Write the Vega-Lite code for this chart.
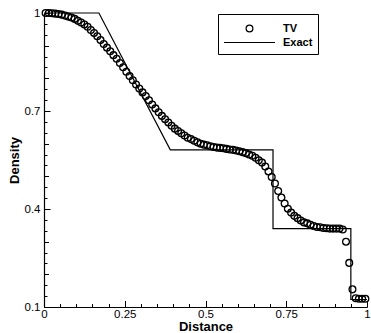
{
  "$schema": "https://vega.github.io/schema/vega-lite/v6.json",
  "width": 323,
  "height": 294,
  "autosize": {"type": "none"},
  "padding": {"left": 44, "top": 13, "right": 4, "bottom": 26},
  "background": "white",
  "config": {
    "view": {"stroke": null},
    "font": "Liberation Sans",
    "axis": {"labelFont": "Liberation Sans", "titleFont": "Liberation Sans", "labelColor": "black", "titleColor": "black", "domainColor": "black", "tickColor": "black", "grid": false},
    "legend": {"orient": "none", "legendX": 174, "legendY": 1, "titleFontSize": 1, "titlePadding": 2,
      "strokeColor": "black", "fillColor": "white", "padding": 5,
      "labelFont": "Liberation Sans", "labelFontSize": 11, "labelFontWeight": "bold", "labelColor": "black",
      "symbolOffset": 0, "labelOffset": 7, "rowPadding": 1, "clipHeight": 13, "symbolStrokeWidth": 1.2, "symbolStrokeColor": "black"}
  },
  "datasets": {
    "tv": [
      {"distance":0.005,"density":1.000,"series":"TV"},
      {"distance":0.015,"density":1.000,"series":"TV"},
      {"distance":0.025,"density":0.999,"series":"TV"},
      {"distance":0.035,"density":0.998,"series":"TV"},
      {"distance":0.045,"density":0.997,"series":"TV"},
      {"distance":0.055,"density":0.995,"series":"TV"},
      {"distance":0.065,"density":0.992,"series":"TV"},
      {"distance":0.075,"density":0.989,"series":"TV"},
      {"distance":0.085,"density":0.986,"series":"TV"},
      {"distance":0.095,"density":0.982,"series":"TV"},
      {"distance":0.105,"density":0.976,"series":"TV"},
      {"distance":0.115,"density":0.971,"series":"TV"},
      {"distance":0.125,"density":0.965,"series":"TV"},
      {"distance":0.135,"density":0.958,"series":"TV"},
      {"distance":0.145,"density":0.948,"series":"TV"},
      {"distance":0.155,"density":0.939,"series":"TV"},
      {"distance":0.165,"density":0.929,"series":"TV"},
      {"distance":0.175,"density":0.917,"series":"TV"},
      {"distance":0.185,"density":0.905,"series":"TV"},
      {"distance":0.195,"density":0.894,"series":"TV"},
      {"distance":0.205,"density":0.883,"series":"TV"},
      {"distance":0.215,"density":0.871,"series":"TV"},
      {"distance":0.225,"density":0.860,"series":"TV"},
      {"distance":0.235,"density":0.847,"series":"TV"},
      {"distance":0.245,"density":0.834,"series":"TV"},
      {"distance":0.255,"density":0.820,"series":"TV"},
      {"distance":0.265,"density":0.807,"series":"TV"},
      {"distance":0.275,"density":0.794,"series":"TV"},
      {"distance":0.285,"density":0.781,"series":"TV"},
      {"distance":0.295,"density":0.769,"series":"TV"},
      {"distance":0.305,"density":0.757,"series":"TV"},
      {"distance":0.315,"density":0.746,"series":"TV"},
      {"distance":0.325,"density":0.733,"series":"TV"},
      {"distance":0.335,"density":0.720,"series":"TV"},
      {"distance":0.345,"density":0.708,"series":"TV"},
      {"distance":0.355,"density":0.696,"series":"TV"},
      {"distance":0.365,"density":0.685,"series":"TV"},
      {"distance":0.375,"density":0.675,"series":"TV"},
      {"distance":0.385,"density":0.665,"series":"TV"},
      {"distance":0.395,"density":0.655,"series":"TV"},
      {"distance":0.405,"density":0.646,"series":"TV"},
      {"distance":0.415,"density":0.639,"series":"TV"},
      {"distance":0.425,"density":0.632,"series":"TV"},
      {"distance":0.435,"density":0.625,"series":"TV"},
      {"distance":0.445,"density":0.618,"series":"TV"},
      {"distance":0.455,"density":0.614,"series":"TV"},
      {"distance":0.465,"density":0.609,"series":"TV"},
      {"distance":0.475,"density":0.604,"series":"TV"},
      {"distance":0.485,"density":0.600,"series":"TV"},
      {"distance":0.495,"density":0.597,"series":"TV"},
      {"distance":0.505,"density":0.595,"series":"TV"},
      {"distance":0.515,"density":0.592,"series":"TV"},
      {"distance":0.525,"density":0.590,"series":"TV"},
      {"distance":0.535,"density":0.588,"series":"TV"},
      {"distance":0.545,"density":0.587,"series":"TV"},
      {"distance":0.555,"density":0.586,"series":"TV"},
      {"distance":0.565,"density":0.584,"series":"TV"},
      {"distance":0.575,"density":0.582,"series":"TV"},
      {"distance":0.585,"density":0.581,"series":"TV"},
      {"distance":0.595,"density":0.579,"series":"TV"},
      {"distance":0.605,"density":0.577,"series":"TV"},
      {"distance":0.615,"density":0.574,"series":"TV"},
      {"distance":0.625,"density":0.571,"series":"TV"},
      {"distance":0.635,"density":0.567,"series":"TV"},
      {"distance":0.645,"density":0.563,"series":"TV"},
      {"distance":0.655,"density":0.557,"series":"TV"},
      {"distance":0.665,"density":0.549,"series":"TV"},
      {"distance":0.675,"density":0.542,"series":"TV"},
      {"distance":0.685,"density":0.530,"series":"TV"},
      {"distance":0.695,"density":0.515,"series":"TV"},
      {"distance":0.705,"density":0.498,"series":"TV"},
      {"distance":0.715,"density":0.478,"series":"TV"},
      {"distance":0.725,"density":0.455,"series":"TV"},
      {"distance":0.735,"density":0.435,"series":"TV"},
      {"distance":0.745,"density":0.417,"series":"TV"},
      {"distance":0.755,"density":0.401,"series":"TV"},
      {"distance":0.765,"density":0.389,"series":"TV"},
      {"distance":0.775,"density":0.379,"series":"TV"},
      {"distance":0.785,"density":0.372,"series":"TV"},
      {"distance":0.795,"density":0.365,"series":"TV"},
      {"distance":0.805,"density":0.359,"series":"TV"},
      {"distance":0.815,"density":0.356,"series":"TV"},
      {"distance":0.825,"density":0.352,"series":"TV"},
      {"distance":0.835,"density":0.348,"series":"TV"},
      {"distance":0.845,"density":0.345,"series":"TV"},
      {"distance":0.855,"density":0.344,"series":"TV"},
      {"distance":0.865,"density":0.342,"series":"TV"},
      {"distance":0.875,"density":0.341,"series":"TV"},
      {"distance":0.885,"density":0.340,"series":"TV"},
      {"distance":0.895,"density":0.340,"series":"TV"},
      {"distance":0.905,"density":0.340,"series":"TV"},
      {"distance":0.915,"density":0.340,"series":"TV"},
      {"distance":0.925,"density":0.337,"series":"TV"},
      {"distance":0.935,"density":0.300,"series":"TV"},
      {"distance":0.945,"density":0.235,"series":"TV"},
      {"distance":0.955,"density":0.154,"series":"TV"},
      {"distance":0.965,"density":0.127,"series":"TV"},
      {"distance":0.975,"density":0.125,"series":"TV"},
      {"distance":0.985,"density":0.125,"series":"TV"},
      {"distance":0.995,"density":0.125,"series":"TV"}
    ],
    "exact": [
      {"i":0,"distance":0.0,"density":1.0,"series":"Exact"},
      {"i":1,"distance":0.17,"density":1.0,"series":"Exact"},
      {"i":2,"distance":0.391,"density":0.581,"series":"Exact"},
      {"i":3,"distance":0.709,"density":0.581,"series":"Exact"},
      {"i":4,"distance":0.709,"density":0.34,"series":"Exact"},
      {"i":5,"distance":0.950,"density":0.34,"series":"Exact"},
      {"i":6,"distance":0.950,"density":0.123,"series":"Exact"},
      {"i":7,"distance":1.0,"density":0.123,"series":"Exact"}
    ]
  },
  "resolve": {"axis": {"x": "independent", "y": "independent"}},
  "layer": [
    {
      "data": {"name": "tv"},
      "mark": {"type": "point", "filled": false, "strokeWidth": 1.3, "color": "black", "opacity": 1},
      "encoding": {
        "x": {"field": "distance", "type": "quantitative", "scale": {"domain": [0, 1], "nice": false, "zero": false},
          "axis": {"orient": "bottom", "title": "Distance", "titleFontSize": 13, "titleFontWeight": "bold", "titlePadding": 1, "values": [0, 0.25, 0.5, 0.75, 1], "format": ".2~f", "labelFontSize": 11.5, "labelPadding": 1, "labelFlush": false, "labelOverlap": false, "ticks": false, "domain": true, "domainWidth": 1.2}},
        "y": {"field": "density", "type": "quantitative", "scale": {"domain": [0.1, 1], "nice": false, "zero": false},
          "axis": {"orient": "left", "title": "Density", "titleFontSize": 13, "titleFontWeight": "bold", "titlePadding": 3, "values": [0.1, 0.4, 0.7, 1], "format": ".1~f", "labelFontSize": 11.5, "labelPadding": 4, "labelFlush": false, "labelOverlap": false, "ticks": false, "domain": true, "domainWidth": 1.2}},
        "shape": {"field": "series", "type": "nominal", "scale": {"domain": ["TV", "Exact"], "range": ["circle", "stroke"]}, "legend": {"title": " "}},
        "size": {"field": "series", "type": "nominal", "scale": {"type": "point", "padding": 0, "domain": ["TV", "Exact"], "range": [46, 2601]}, "legend": {"title": " "}}
      }
    },
    {
      "data": {"name": "exact"},
      "mark": {"type": "line", "color": "black", "strokeWidth": 1.2},
      "encoding": {
        "x": {"field": "distance", "type": "quantitative", "axis": {"orient": "bottom", "title": null, "labels": false, "domain": false, "values": [0, 0.25, 0.5, 0.75, 1], "tickSize": -6.5, "tickWidth": 1}},
        "y": {"field": "density", "type": "quantitative", "axis": {"orient": "left", "title": null, "labels": false, "domain": false, "values": [0.1, 0.4, 0.7, 1], "tickSize": -6, "tickWidth": 1}},
        "order": {"field": "i", "type": "quantitative"}
      }
    },
    {
      "data": {"name": "exact"},
      "mark": {"type": "point", "opacity": 0},
      "encoding": {
        "x": {"field": "distance", "type": "quantitative", "axis": {"orient": "bottom", "title": null, "labels": false, "domain": false, "values": [0.05, 0.1, 0.15, 0.2, 0.3, 0.35, 0.4, 0.45, 0.55, 0.6, 0.65, 0.7, 0.8, 0.85, 0.9, 0.95], "tickSize": -3.5, "tickWidth": 1}},
        "y": {"field": "density", "type": "quantitative", "axis": {"orient": "left", "title": null, "labels": false, "domain": false, "values": [0.2, 0.3, 0.5, 0.6, 0.8, 0.9], "tickSize": -4.5, "tickWidth": 1}}
      }
    },
    {
      "data": {"name": "exact"},
      "mark": {"type": "point", "opacity": 0},
      "encoding": {
        "x": {"field": "distance", "type": "quantitative", "axis": null},
        "y": {"field": "density", "type": "quantitative", "axis": {"orient": "left", "title": null, "labels": false, "domain": false, "values": [0.13333, 0.16667, 0.23333, 0.26667, 0.33333, 0.36667, 0.43333, 0.46667, 0.53333, 0.56667, 0.63333, 0.66667, 0.73333, 0.76667, 0.83333, 0.86667, 0.93333, 0.96667], "tickSize": -3, "tickWidth": 1}}
      }
    }
  ]
}
